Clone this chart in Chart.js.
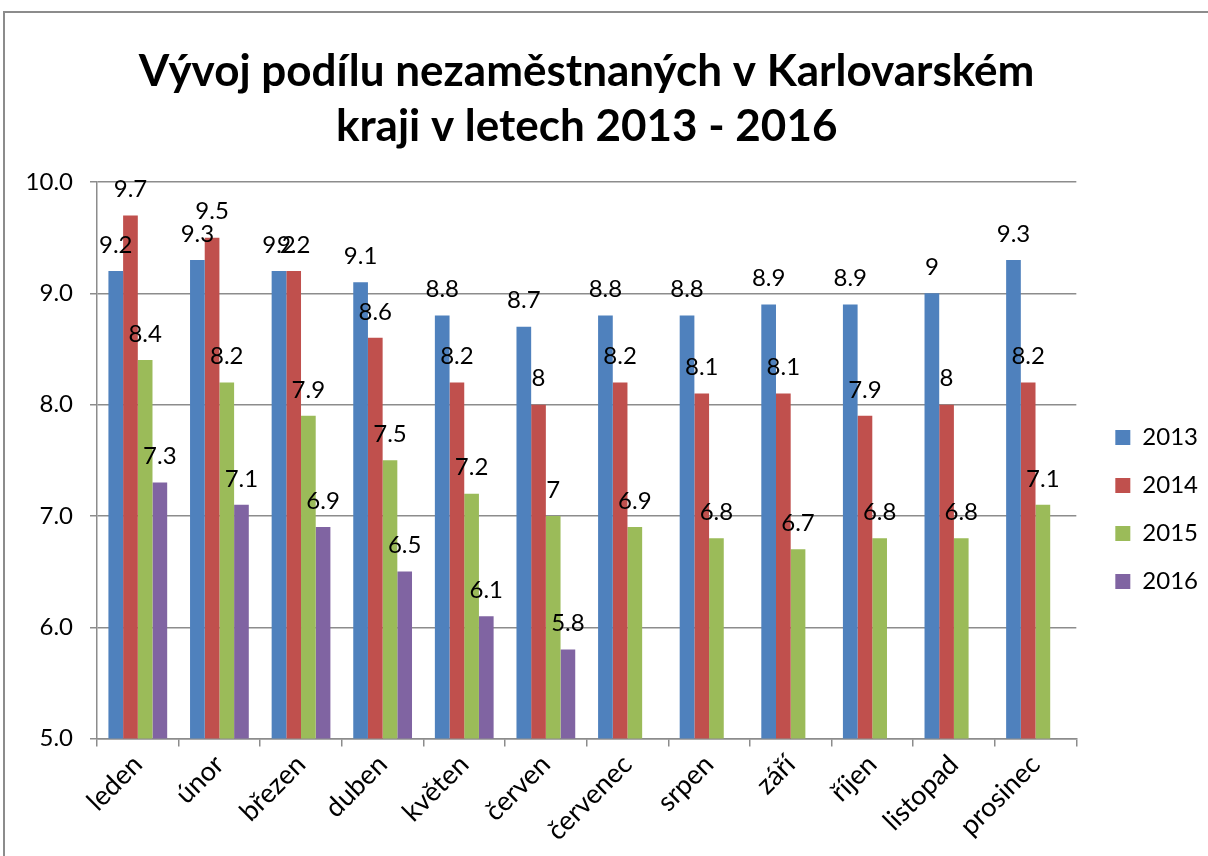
<!DOCTYPE html>
<html>
<head>
<meta charset="utf-8">
<script src="https://cdn.jsdelivr.net/npm/chart.js@4.4.0/dist/chart.umd.min.js"></script>
<style>
html,body{margin:0;padding:0;background:#fff;}
#wrap{position:relative;width:1208px;height:856px;overflow:hidden;}
#frame{position:absolute;left:3px;top:11px;width:1220px;height:870px;border:2px solid #8c8c8c;box-sizing:border-box;}
#c{position:absolute;left:0;top:0;}
</style>
</head>
<body>
<div id="wrap">
<div id="frame"></div>
<canvas id="c" width="1208" height="856"></canvas>
</div>
<script>
const months = ['leden','únor','březen','duben','květen','červen','červenec','srpen','září','říjen','listopad','prosinec'];
const s2013 = [9.2, 9.3, 9.2, 9.1, 8.8, 8.7, 8.8, 8.8, 8.9, 8.9, 9, 9.3];
const s2014 = [9.7, 9.5, 9.2, 8.6, 8.2, 8, 8.2, 8.1, 8.1, 7.9, 8, 8.2];
const s2015 = [8.4, 8.2, 7.9, 7.5, 7.2, 7, 6.9, 6.8, 6.7, 6.8, 6.8, 7.1];
const s2016 = [7.3, 7.1, 6.9, 6.5, 6.1, 5.8, null, null, null, null, null, null];
const seriesNames = ['2013','2014','2015','2016'];
const colors = ['#4F81BD','#C0504D','#9BBB59','#8064A2'];
const titleLines = ['Vývoj podílu nezaměstnaných v Karlovarském','kraji v letech 2013 - 2016'];

const FONT = "Lato, 'Open Sans', sans-serif";
const FS = 24;

const labelPlugin = {
  id: 'barLabels',
  afterDatasetsDraw(chart) {
    const ctx = chart.ctx;
    ctx.save();
    ctx.font = FS + 'px ' + FONT;
    ctx.fillStyle = '#000';
    ctx.textAlign = 'center';
    ctx.textBaseline = 'middle';
    chart.data.datasets.forEach((ds, i) => {
      const meta = chart.getDatasetMeta(i);
      meta.data.forEach((bar, j) => {
        const v = ds.data[j];
        if (v === null || v === undefined) return;
        ctx.fillText(String(v), bar.x, bar.y - 26);
      });
    });
    ctx.restore();
  }
};

// shift the legend block down to sit where the original has it
const legendShift = {
  id: 'legendShift',
  afterLayout(chart) {
    const l = chart.legend;
    if (l) { l.top += 63; l.bottom += 63; }
  }
};

const datasets = [s2013, s2014, s2015, s2016].map((d, i) => ({
  label: seriesNames[i],
  data: d,
  backgroundColor: colors[i],
  borderWidth: 0,
  categoryPercentage: 0.72,
  barPercentage: 1.0
}));

new Chart(document.getElementById('c'), {
  type: 'bar',
  data: { labels: months, datasets },
  plugins: [labelPlugin, legendShift],
  options: {
    responsive: false,
    animation: false,
    layout: { padding: { top: 44, left: 0, right: 0, bottom: 7 } },
    plugins: {
      title: {
        display: true,
        fullSize: false,
        text: titleLines,
        font: { family: FONT, size: 44, weight: 'bold', lineHeight: 1.25 },
        color: '#000',
        padding: { top: 0, bottom: 28 }
      },
      legend: {
        position: 'right',
        labels: {
          font: { family: FONT, size: FS },
          color: '#000',
          boxWidth: 15,
          boxHeight: 15,
          padding: 24
        }
      },
      tooltip: { enabled: false }
    },
    scales: {
      y: {
        min: 5, max: 10,
        ticks: {
          stepSize: 1,
          font: { family: FONT, size: FS },
          color: '#000',
          padding: 17,
          callback: v => Number(v).toFixed(1)
        },
        grid: { color: '#8c8c8c', lineWidth: 1.5, tickLength: 7, drawTicks: true },
        border: { color: '#8c8c8c', width: 1.5 },
        afterFit(scale) { scale.width = 97; }
      },
      gap: {
        type: 'linear',
        position: 'right',
        display: true,
        grid: { display: false, drawTicks: false },
        border: { display: false },
        ticks: { display: false },
        afterFit(scale) { scale.width = 15; }
      },
      x: {
        ticks: {
          font: { family: FONT, size: 27 },
          color: '#000',
          minRotation: 45,
          maxRotation: 45,
          padding: 2
        },
        grid: { offset: true, drawOnChartArea: false, color: '#8c8c8c', lineWidth: 1.5, tickLength: 8 },
        border: { color: '#8c8c8c', width: 1.5 }
      }
    }
  }
});
</script>
</body>
</html>
